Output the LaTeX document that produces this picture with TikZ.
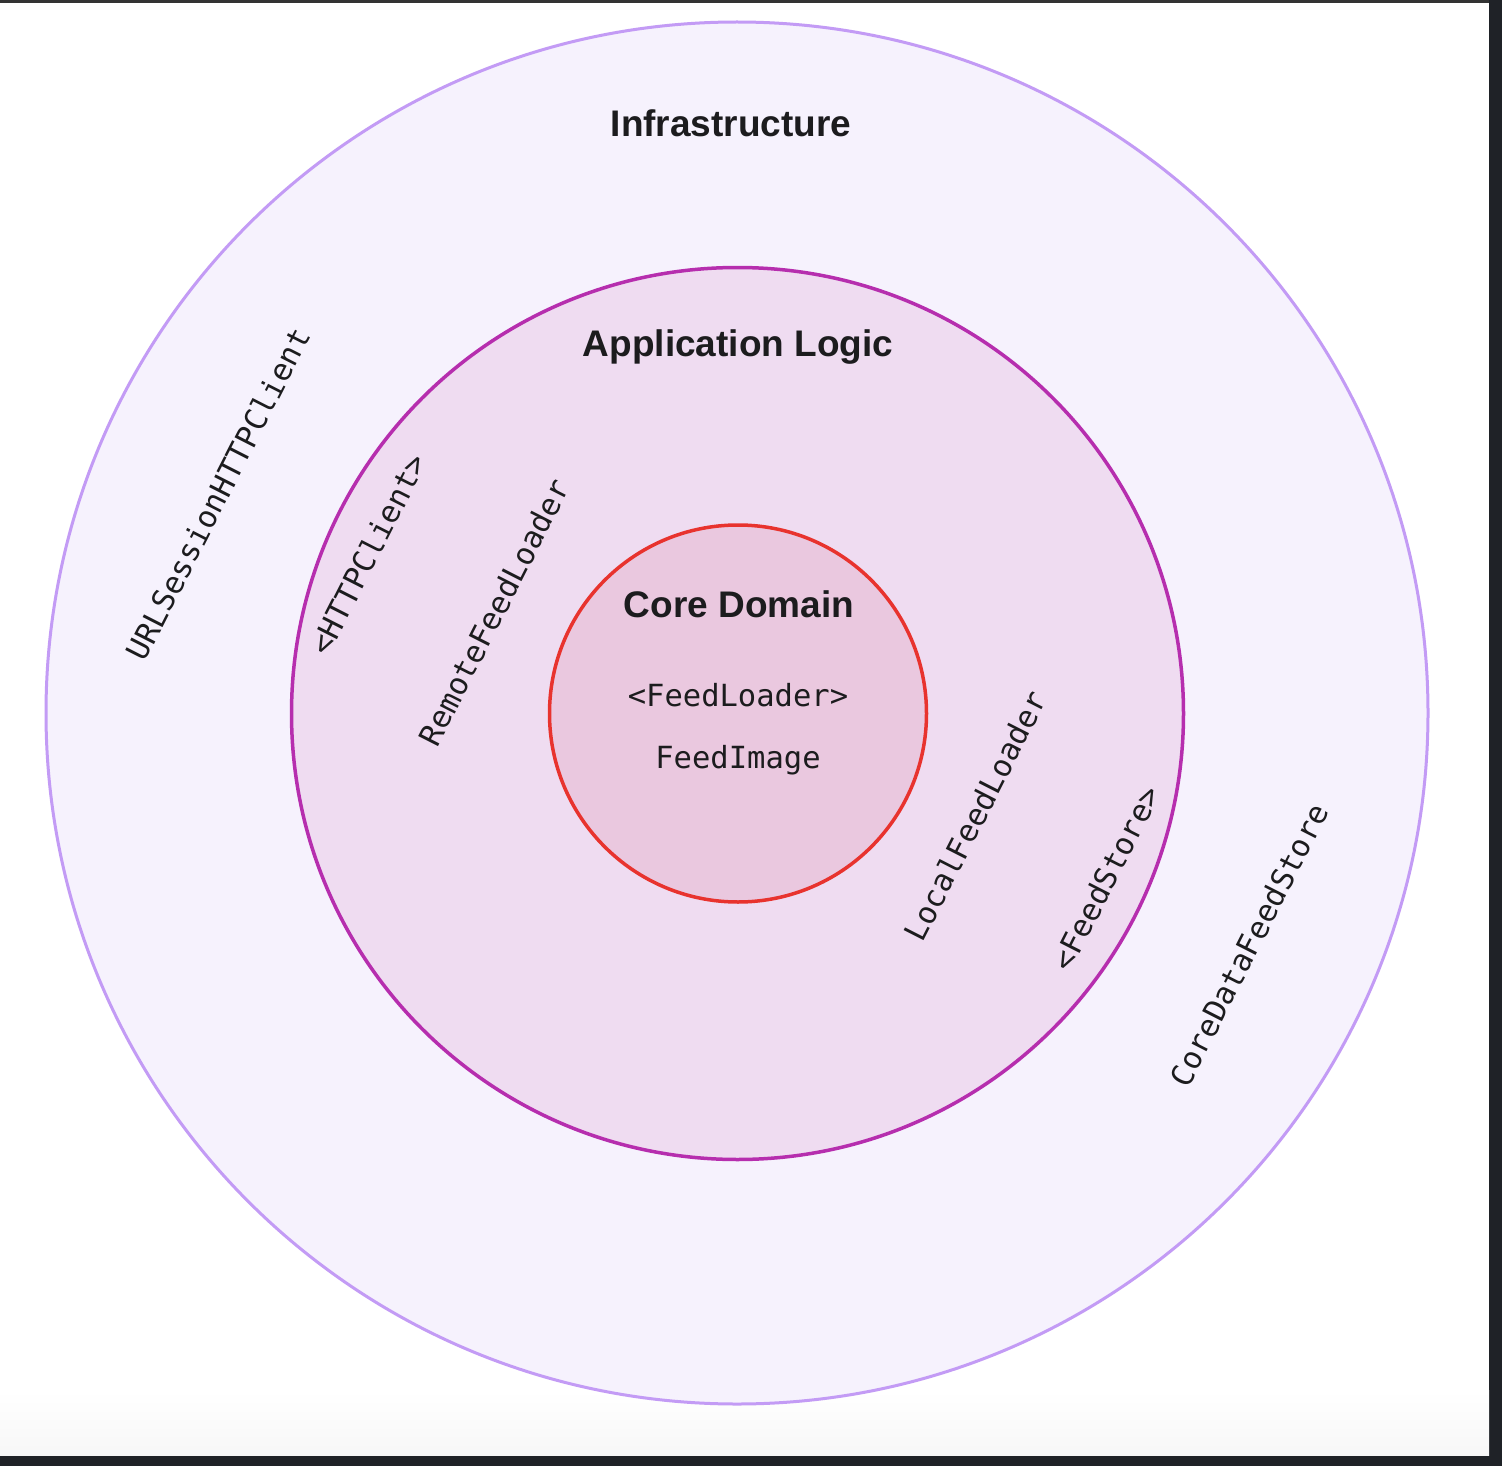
\documentclass[tikz,border=0pt]{standalone}
\usepackage{fontspec}
\setmainfont{Liberation Sans}
\newfontfamily\monof{DejaVu Sans Mono}
\definecolor{framedark}{HTML}{1F2227}
\definecolor{frametop}{HTML}{333333}
\definecolor{infrafill}{HTML}{F6F2FD}
\definecolor{infradraw}{HTML}{C39BF5}
\definecolor{appfill}{HTML}{EFDCF1}
\definecolor{appdraw}{HTML}{B62EAE}
\definecolor{corefill}{HTML}{EAC8DF}
\definecolor{coredraw}{HTML}{E8332E}
\definecolor{inkc}{HTML}{1C1C1E}
\tikzset{
  ring/.style={circle, inner sep=0pt},
  title/.style={font=\bfseries\fontsize{37}{44}\selectfont, text=inkc, inner sep=0pt},
  code/.style={font=\monof\fontsize{30.5}{37}\selectfont, text=inkc, inner sep=0pt},
  slant/.style={code, rotate=63}
}
\begin{document}
\begin{tikzpicture}[x=1pt,y=-1pt]
\useasboundingbox (0,0) rectangle (1502,1466);
\fill[framedark] (0,0) rectangle (1502,1466);
\fill[frametop] (0,0) rectangle (1489,3);
\fill[white] (0,3) rectangle (1489,1455);
\shade[top color=white, bottom color={black!3}] (0,1390) rectangle (1489,1455);

\node[ring, draw=infradraw, fill=infrafill, line width=3pt, minimum size=1382pt] (infra) at (737,713) {};
\node[ring, draw=appdraw, fill=appfill, line width=3.5pt, minimum size=892pt] (app) at (737.5,713.5) {};
\node[ring, draw=coredraw, fill=corefill, line width=3.5pt, minimum size=377pt] (core) at (738,713.5) {};

\node[title] (tinfra) at (731,123) {Infrastructure};
\node[title] (tapp) at (738,347) {Application Logic};
\node[title] (tcore) at (739,604) {Core Domain};

\node[code] (feedloader) at (738,695) {<FeedLoader>};
\node[code] (feedimage) at (738,760) {FeedImage};

\node[slant] (url) at (218,494) {URLSessionHTTPClient};
\node[slant] (httpc) at (368,554) {<HTTPClient>};
\node[slant] (remote) at (494,612) {RemoteFeedLoader};
\node[slant] (local) at (975,816) {LocalFeedLoader};
\node[slant] (store) at (1106,878) {<FeedStore>};
\node[slant] (coredata) at (1249,945) {CoreDataFeedStore};
\end{tikzpicture}
\end{document}
